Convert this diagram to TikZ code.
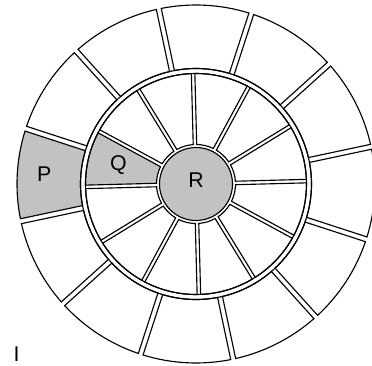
\documentclass[tikz,border=0pt]{standalone}
\usepackage{fontspec}
\setmainfont{Liberation Sans}
\definecolor{cellgray}{RGB}{194,194,194}
\begin{document}
\begin{tikzpicture}[x=0.75pt,y=0.75pt,
  cellline/.style={draw=black,line width=0.85pt},
  lbl/.style={font=\fontsize{16}{19}\selectfont,inner sep=0pt,text depth=0pt,anchor=center}]
\useasboundingbox (-196,-181) rectangle (176,184);
\fill[white] (-196,-181) rectangle (176,184);
% outer ring cells
\foreach \k in {0,...,11}{
  \pgfmathsetmacro\a{12+30*\k}
  \pgfmathsetmacro\b{42+30*\k}
  \pgfmathsetmacro\ai{\a+asin(2.5/115.5)}
  \pgfmathsetmacro\ao{\a+asin(2.5/179)}
  \pgfmathsetmacro\bi{\b-asin(2.5/115.5)}
  \pgfmathsetmacro\bo{\b-asin(2.5/179)}
  \ifnum\k=5 \def\fc{cellgray}\else\def\fc{white}\fi
  \path[cellline,fill=\fc] (\ai:115.5) -- (\ao:179)
     arc[start angle=\ao,end angle=\bo,radius=179] -- (\bi:115.5)
     arc[start angle=\bi,end angle=\ai,radius=115.5] -- cycle;
}
% inner ring cells
\foreach \k in {0,...,11}{
  \pgfmathsetmacro\a{1.5+30*\k}
  \pgfmathsetmacro\b{31.5+30*\k}
  \pgfmathsetmacro\ai{\a+asin(1.75/39.5)}
  \pgfmathsetmacro\ao{\a+asin(1.75/110.5)}
  \pgfmathsetmacro\bi{\b-asin(1.75/39.5)}
  \pgfmathsetmacro\bo{\b-asin(1.75/110.5)}
  \ifnum\k=5 \def\fc{cellgray}\else\def\fc{white}\fi
  \path[cellline,fill=\fc] (\ai:39.5) -- (\ao:110.5)
     arc[start angle=\ao,end angle=\bo,radius=110.5] -- (\bi:39.5)
     arc[start angle=\bi,end angle=\ai,radius=39.5] -- cycle;
}
\draw[cellline] (0,0) circle[radius=110.5];
\draw[cellline] (0,0) circle[radius=115.5];
\draw[cellline,fill=cellgray] (0,0) circle[radius=36.5];
\node[lbl] (R) at (0,4) {R};
\node[lbl] (Q) at (-77.7,20.7) {Q};
\node[lbl] (P) at (-151.7,10) {P};
\node[lbl] (I) at (-179.3,-170) {I};
\end{tikzpicture}
\end{document}
